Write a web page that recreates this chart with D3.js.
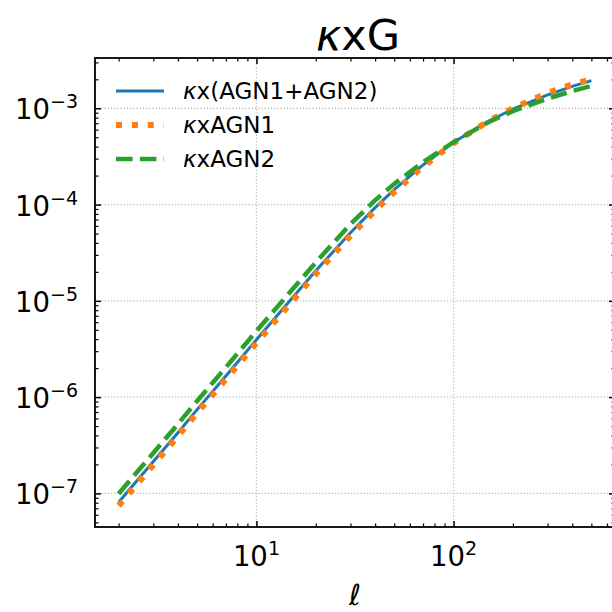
<!DOCTYPE html>
<html>
<head>
<meta charset="utf-8">
<script src="https://cdn.jsdelivr.net/npm/d3@7"></script>
<style>
  body { margin: 0; background: #fff; }
  svg { font-family: "DejaVu Sans", sans-serif; }
  .grid line { stroke: #b8b8b8; stroke-width: 1.2; stroke-dasharray: 1.2 2; }
  .ax path { display: none; }
  .ax line { stroke: #000; }
</style>
</head>
<body>
<script>
// multipoles and the three cross spectra
var ell = [2, 3, 4, 5, 7, 10, 15, 20, 30, 40, 50, 70, 100, 150, 200, 300, 400, 500];
var kxAll  = [8.07e-8, 2.14e-7, 4.27e-7, 7.41e-7, 1.66e-6, 3.95e-6, 1.04e-5, 2.05e-5, 5.10e-5, 9.30e-5, 1.43e-4, 2.58e-4, 4.45e-4, 7.34e-4, 9.79e-4, 1.38e-3, 1.69e-3, 1.94e-3];
var kxAGN1 = [7.45e-8, 1.97e-7, 3.94e-7, 6.84e-7, 1.53e-6, 3.65e-6, 9.60e-6, 1.90e-5, 4.72e-5, 8.68e-5, 1.35e-4, 2.48e-4, 4.35e-4, 7.34e-4, 1.00e-3, 1.45e-3, 1.77e-3, 2.00e-3];
var kxAGN2 = [9.93e-8, 2.63e-7, 5.25e-7, 9.12e-7, 2.04e-6, 4.86e-6, 1.27e-5, 2.51e-5, 6.27e-5, 1.11e-4, 1.64e-4, 2.76e-4, 4.45e-4, 7.17e-4, 9.35e-4, 1.26e-3, 1.51e-3, 1.71e-3];

var seriesNames = ["kx(AGN1+AGN2)", "kxAGN1", "kxAGN2"];
var legendLabels = ["x(AGN1+AGN2)", "xAGN1", "xAGN2"];
var xMajor = [10, 100];
var yMajor = [1e-7, 1e-6, 1e-5, 1e-4, 1e-3];
var xMajorExp = ["1", "2"];
var yMajorExp = ["\u22127", "\u22126", "\u22125", "\u22124", "\u22123"];

var W = 612, H = 612;
// note: "top" is taken by window.top, so use a prefix
var pL = 95, pR = 615, pT = 58, pB = 527;

var svg = d3.select("body").append("svg")
    .attr("width", W).attr("height", H);

// log limits with 5% margin like matplotlib
function logLim(vals){
    var lo = Math.log10(d3.min(vals)), hi = Math.log10(d3.max(vals));
    var m = (hi - lo) * 0.05;
    return [Math.pow(10, lo - m), Math.pow(10, hi + m)];
}
var x = d3.scaleLog().domain(logLim(ell)).range([pL, pR]);
var y = d3.scaleLog().domain(logLim(kxAll.concat(kxAGN1, kxAGN2))).range([pB, pT]);

// minor tick positions
var xMinor = [], yMinor = [];
[1, 10, 100].forEach(function(b){
    for (var k = 2; k <= 9; k++){
        var v = b * k;
        if (v > x.domain()[0] && v < x.domain()[1]) xMinor.push(v);
    }
});
[1e-8, 1e-7, 1e-6, 1e-5, 1e-4, 1e-3].forEach(function(b){
    for (var k = 2; k <= 9; k++){
        var v = b * k;
        if (v > y.domain()[0] && v < y.domain()[1]) yMinor.push(v);
    }
});

// grid
var grid = svg.append("g").attr("class", "grid");
grid.selectAll(".gx").data(xMajor).enter().append("line")
    .attr("x1", function(d){ return x(d); }).attr("x2", function(d){ return x(d); })
    .attr("y1", pT).attr("y2", pB);
grid.selectAll(".gy").data(yMajor).enter().append("line")
    .attr("y1", function(d){ return y(d); }).attr("y2", function(d){ return y(d); })
    .attr("x1", pL).attr("x2", pR);

// curves
var line = d3.line()
    .x(function(d){ return x(d[0]); })
    .y(function(d){ return y(d[1]); });

var styles = [
    {color: "#1f77b4", width: 3, dash: null},
    {color: "#ff7f0e", width: 6, dash: "6 9.9"},
    {color: "#2ca02c", width: 4.5, dash: "16.6 7.2"}
];
var allSeries = [kxAll, kxAGN1, kxAGN2];

var plot = svg.append("g");
allSeries.forEach(function(s, i){
    plot.append("path")
        .datum(d3.zip(ell, s))
        .attr("d", line)
        .attr("fill", "none")
        .attr("stroke", styles[i].color)
        .attr("stroke-width", styles[i].width)
        .attr("stroke-dasharray", styles[i].dash);
});

// ticks on all four sides, pointing in
function addTicks(axisFn, scale, vals, size, w, transform){
    svg.append("g").attr("class", "ax")
        .attr("transform", transform)
        .call(axisFn(scale).tickValues(vals).tickSize(size).tickFormat(""))
        .selectAll("line").attr("stroke-width", w);
}
addTicks(d3.axisBottom, x, xMajor, -6, 1.5, "translate(0," + pB + ")");
addTicks(d3.axisBottom, x, xMinor, -3.5, 1.2, "translate(0," + pB + ")");
addTicks(d3.axisTop, x, xMajor, -6, 1.5, "translate(0," + pT + ")");
addTicks(d3.axisTop, x, xMinor, -3.5, 1.2, "translate(0," + pT + ")");
addTicks(d3.axisLeft, y, yMajor, -6, 1.5, "translate(" + pL + ",0)");
addTicks(d3.axisLeft, y, yMinor, -3.5, 1.2, "translate(" + pL + ",0)");
addTicks(d3.axisRight, y, yMajor, -6, 1.5, "translate(" + pR + ",0)");
addTicks(d3.axisRight, y, yMinor, -3.5, 1.2, "translate(" + pR + ",0)");

// frame
svg.append("rect")
    .attr("x", pL).attr("y", pT)
    .attr("width", pR - pL).attr("height", pB - pT)
    .attr("fill", "none").attr("stroke", "#000").attr("stroke-width", 1.8);

// tick labels
var xl = svg.append("g");
xMajor.forEach(function(v, i){
    var t = xl.append("text")
        .attr("x", x(v)).attr("y", 566)
        .attr("text-anchor", "middle")
        .attr("font-size", 27.5);
    t.append("tspan").text("10");
    t.append("tspan").attr("font-size", 19).attr("dy", -11).text(xMajorExp[i]);
});
var yl = svg.append("g");
yMajor.forEach(function(v, i){
    var t = yl.append("text")
        .attr("x", 78).attr("y", y(v) + 11)
        .attr("text-anchor", "end")
        .attr("font-size", 27.5);
    t.append("tspan").text("10");
    t.append("tspan").attr("font-size", 19).attr("dy", -11).text(yMajorExp[i]);
});

// axis label and title
svg.append("text")
    .attr("x", x(Math.sqrt(x.domain()[0] * x.domain()[1]))).attr("y", 605)
    .attr("text-anchor", "middle")
    .attr("font-size", 29).attr("font-style", "italic")
    .text("\u2113");

var title = svg.append("text")
    .attr("x", 358).attr("y", 50)
    .attr("text-anchor", "middle")
    .attr("font-size", 43);
title.append("tspan").attr("font-style", "italic").text("\u03ba");
title.append("tspan").text("xG");

// legend
var leg = svg.append("g");
seriesNames.forEach(function(name, i){
    var yy = 91 + i * 34;
    leg.append("line")
        .attr("x1", 116).attr("x2", 164)
        .attr("y1", yy).attr("y2", yy)
        .attr("stroke", styles[i].color)
        .attr("stroke-width", styles[i].width)
        .attr("stroke-dasharray", styles[i].dash);
    var t = leg.append("text")
        .attr("x", 183).attr("y", yy + 8)
        .attr("font-size", 23);
    t.append("tspan").attr("font-style", "italic").text("\u03ba");
    t.append("tspan").text(legendLabels[i]);
});
</script>
</body>
</html>
